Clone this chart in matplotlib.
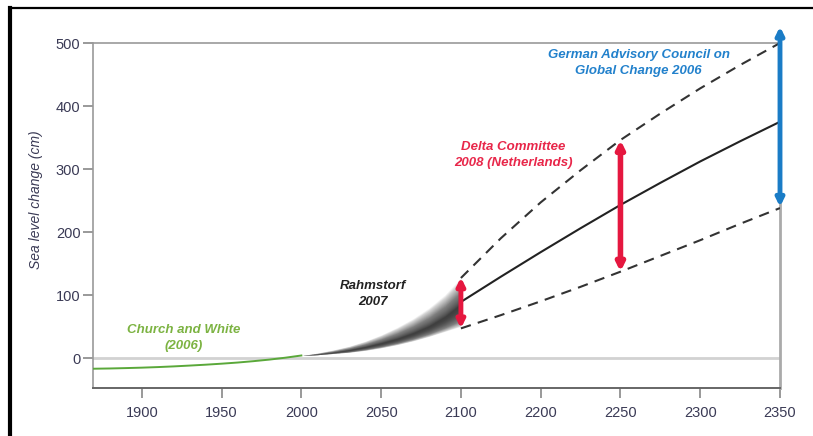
import numpy as np
import matplotlib
matplotlib.use("Agg")
import matplotlib.pyplot as plt
from matplotlib.lines import Line2D

# ---------------- data ----------------
tick_years = [1900, 1950, 2000, 2050, 2100, 2200, 2250, 2300, 2350]
tick_labels = ["1900", "1950", "2000", "2050", "2100", "2200", "2250", "2300", "2350"]
y_ticks = [0, 100, 200, 300, 400, 500]

# Church and White (2006) observed
cw_years = [1870, 1880, 1890, 1900, 1910, 1920, 1930, 1940, 1950, 1960, 1970, 1980, 1990, 2000]
cw_vals = [-17, -16.6, -16, -15.3, -14.4, -13.3, -12, -10.6, -9, -7.2, -5, -2.5, 0.5, 4]

# Rahmstorf 2007 fan
rf_years = [2000, 2010, 2020, 2030, 2040, 2050, 2060, 2070, 2080, 2090, 2100]
rf_center = [4, 6, 9, 13, 18, 24, 31, 40, 51, 66, 86]
rf_upper = [4, 8, 13, 19, 27, 37, 49, 63, 80, 101, 128]
rf_lower = [4, 5, 7, 9, 12, 16, 21, 27, 34, 42, 50]

# Projections beyond 2100
pr_years = [2100, 2150, 2200, 2225, 2250, 2275, 2300, 2325, 2350]
pr_mid = [89, 129, 168, 206, 243, 278, 312, 344, 375]
pr_high = [127, 190, 247, 298, 346, 388, 428, 465, 500]
pr_low = [47, 68, 90, 113, 137, 162, 187, 213, 238]

# ranges (arrows)
delta_2100 = (2100, 47, 128)
delta_2250 = (2250, 137, 346)
german_2350 = (2350, 240, 526)

# ---------------- scale ----------------
idx = np.arange(len(tick_years), dtype=float)
ty = np.array(tick_years, dtype=float)


def fwd(x):
    x = np.asarray(x, dtype=float)
    out = np.interp(x, ty, idx)
    out = np.where(x < ty[0], (x - ty[0]) / 50.0, out)
    out = np.where(x > ty[-1], idx[-1] + (x - ty[-1]) / 50.0, out)
    return out


def inv(p):
    p = np.asarray(p, dtype=float)
    out = np.interp(p, idx, ty)
    out = np.where(p < 0, ty[0] + p * 50.0, out)
    out = np.where(p > idx[-1], ty[-1] + (p - idx[-1]) * 50.0, out)
    return out


plt.rcParams['font.family'] = ['Liberation Sans', 'DejaVu Sans']

W, H = 813, 436
fig = plt.figure(figsize=(W / 100, H / 100), dpi=100)
fig.patch.set_facecolor('white')
ax = fig.add_axes([93 / W, 1 - 388 / H, (780 - 93) / W, (388 - 43) / H])
ax.set_xscale('function', functions=(fwd, inv))
ax.set_xlim(1869.4, 2350)
ax.set_ylim(-47.6, 500)

# zero line
ax.axhline(0, color='#d2d2d2', lw=2.0, zorder=1)

# Church and White
ax.plot(cw_years, cw_vals, color='#5aa83a', lw=1.4, zorder=3)

# Rahmstorf fan (layered shading)
c = np.array(rf_center, float)
u = np.array(rf_upper, float)
lo = np.array(rf_lower, float)
N = 120
for t in np.linspace(0.01, 1, N):
    ax.fill_between(rf_years, c - (c - lo) * t ** 0.5, c + (u - c) * t ** 1.3,
                    color='#2a2a2a', alpha=0.013, lw=0, zorder=2)

# projections
ax.plot(pr_years, pr_mid, color='#222222', lw=1.5, zorder=4)
ax.plot(pr_years, pr_high, color='#333333', lw=1.5, ls=(0, (5, 3.5)), zorder=4)
ax.plot(pr_years, pr_low, color='#333333', lw=1.5, ls=(0, (5, 3.5)), zorder=4)


def arrow(spec, color, lw=4):
    x, y0, y1 = spec
    ax.annotate('', xy=(x, y1), xytext=(x, y0),
                arrowprops=dict(arrowstyle='<|-|>', color=color, lw=lw,
                                mutation_scale=11, shrinkA=0, shrinkB=0),
                annotation_clip=False, zorder=6)


arrow(delta_2100, '#e5173f', lw=3.5)
arrow(delta_2250, '#e5173f', lw=4)
arrow(german_2350, '#1a7cc6', lw=3.5)

# texts
tkw = dict(fontsize=9.5, fontweight='bold', style='italic', ha='center', va='center',
           linespacing=1.45)
ax.text(1926, 31.7, 'Church and White\n(2006)', color='#7cb342', **tkw)
ax.text(2045, 101.6, 'Rahmstorf\n2007', color='#222222', **tkw)
ax.text(2166, 322, 'Delta Committee\n2008 (Netherlands)', color='#e8274a', **tkw)
ax.text(2261.5, 469, 'German Advisory Council on\nGlobal Change 2006', color='#2281cc', **tkw)

# axes styling
ax.set_xticks(tick_years)
ax.set_xticklabels(tick_labels)
ax.set_yticks(y_ticks)
ax.set_yticklabels([str(v) for v in y_ticks])
ax.minorticks_off()
ax.tick_params(axis='both', direction='out', length=7, width=1.2, color='#888888',
               labelsize=10.5, labelcolor='#3a3a55')
ax.tick_params(axis='x', pad=6)
ax.tick_params(axis='y', pad=2)
for s in ['left', 'top']:
    ax.spines[s].set_color('#999999')
    ax.spines[s].set_linewidth(1.2)
ax.spines['right'].set_color('#aaaaaa')
ax.spines['right'].set_linewidth(2)
ax.spines['bottom'].set_color('#666666')
ax.spines['bottom'].set_linewidth(1.4)
ax.set_ylabel('Sea level change (cm)', fontsize=10, style='italic', color='#3a3a55')
ax.yaxis.set_label_coords((43 - 93) / (780 - 93), (388 - 200) / (388 - 43))

# outer black frame (left and top edges visible)
fig.add_artist(Line2D([10 / W, 10 / W], [0, 1 - 8 / H], transform=fig.transFigure,
                      color='black', lw=3))
fig.add_artist(Line2D([10 / W, 1], [1 - 8 / H, 1 - 8 / H], transform=fig.transFigure,
                      color='black', lw=1.6))

fig.savefig('out.png', dpi=100)
